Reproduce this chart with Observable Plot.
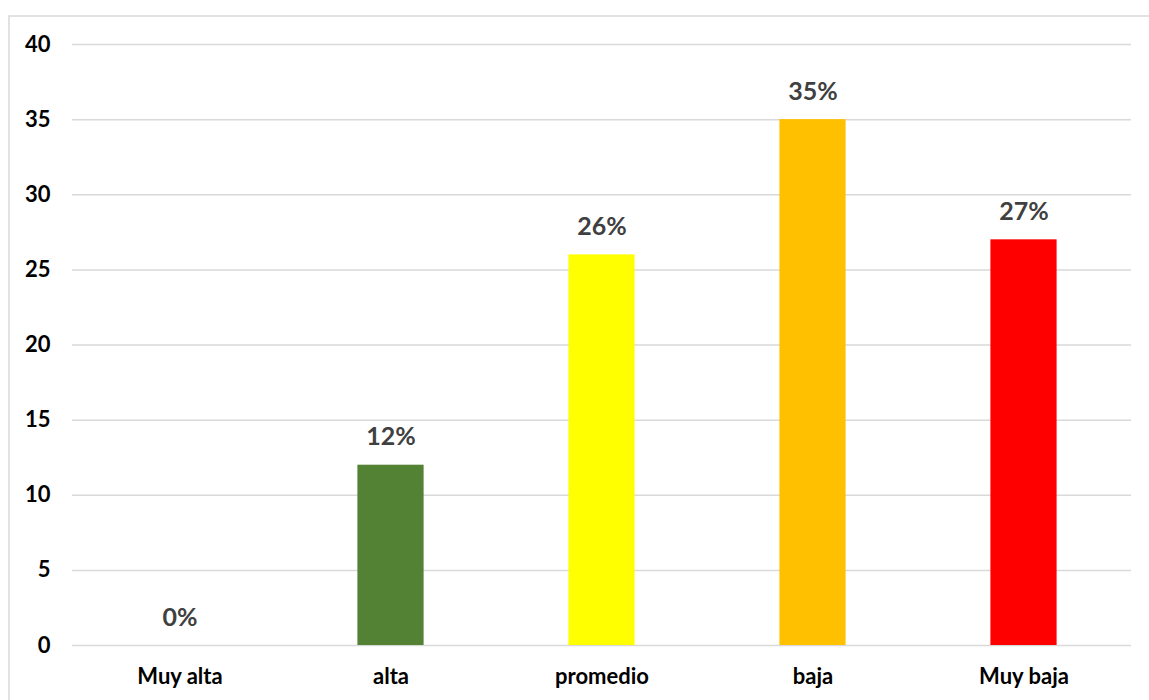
<!DOCTYPE html>
<html>
<head>
<meta charset="utf-8">
<script src="https://cdn.jsdelivr.net/npm/d3@7"></script>
<script src="https://cdn.jsdelivr.net/npm/@observablehq/plot@0.6"></script>
<style>
  body { margin: 0; background: #fff; }
  #chart svg { display: block; }
</style>
</head>
<body>
<div id="chart"></div>
<script>
const categories = ["Muy alta", "alta", "promedio", "baja", "Muy baja"];
const values = [0, 12, 26, 35, 27];
const valueLabels = ["0%", "12%", "26%", "35%", "27%"];
const colors = ["#548235", "#548235", "#FFFF00", "#FFC000", "#FF0000"];
const yTicks = [0, 5, 10, 15, 20, 25, 30, 35, 40];

const data = categories.map((c, i) => ({cat: c, value: values[i], label: valueLabels[i], color: colors[i]}));

const chart = Plot.plot({
  width: 1149,
  height: 700,
  marginLeft: 72,
  marginRight: 18,
  marginTop: 44,
  marginBottom: 55,
  style: {fontFamily: "Lato, 'Open Sans', sans-serif", fontWeight: "bold", fontSize: "22px", color: "#000", background: "#fff"},
  x: {domain: categories, padding: 0, label: null},
  y: {domain: [0, 40], ticks: yTicks, label: null},
  marks: [
    Plot.frame({stroke: "#d9d9d9", strokeWidth: 1.5, insetLeft: -63.5, insetTop: -28.5, insetRight: -40, insetBottom: -80}),
    Plot.gridY(yTicks, {stroke: "#d9d9d9", strokeOpacity: 1, strokeWidth: 1.5}),
    Plot.barY(data, {x: "cat", y: "value", fill: "color", insetLeft: 72.4, insetRight: 72.4}),
    Plot.text(data, {x: "cat", y: "value", text: "label", dy: -28, fill: "#404040", fontSize: 25, fontWeight: "bold", lineAnchor: "middle"}),
    Plot.axisY(yTicks, {tickSize: 0, tickPadding: 22, fontSize: 22, fontWeight: "bold", fill: "#000"}),
    Plot.axisX({tickSize: 0, tickPadding: 23, fontSize: 22, fontWeight: "bold", fill: "#000", label: null})
  ]
});
document.getElementById("chart").appendChild(chart);
</script>
</body>
</html>
